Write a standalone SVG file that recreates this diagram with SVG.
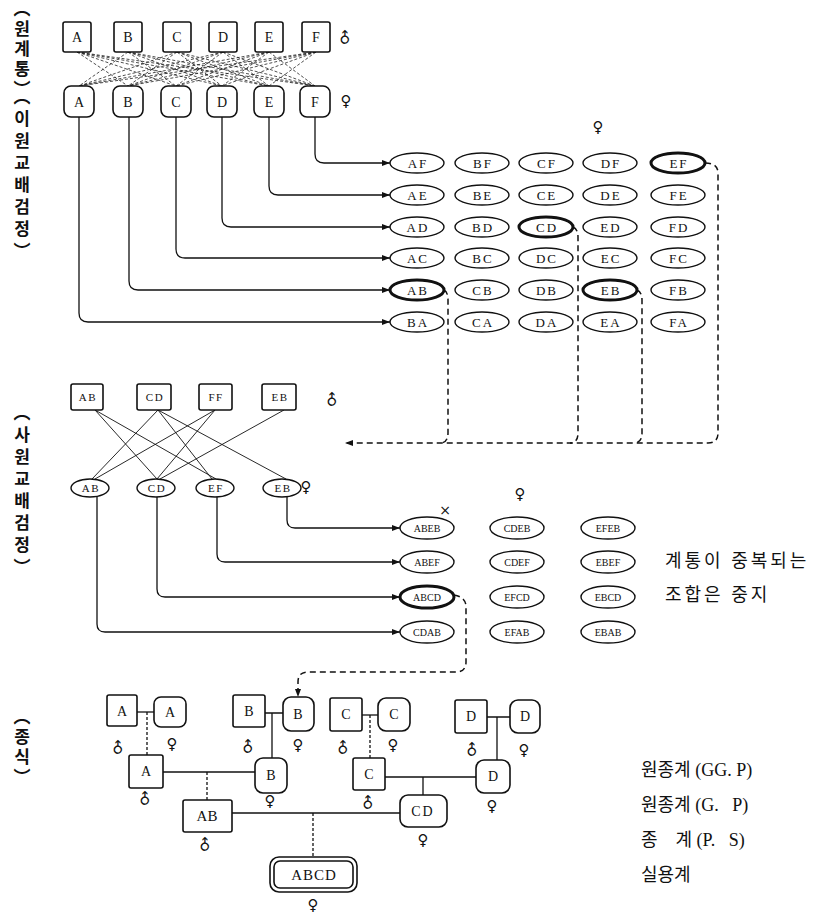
<svg xmlns="http://www.w3.org/2000/svg" width="835" height="919" viewBox="0 0 835 919">
<style>
.box{fill:#fff;stroke:#111;stroke-width:1.6}
.ell{fill:#fff;stroke:#111;stroke-width:1.4}
.bold{stroke-width:3}
.lbl{font-family:"Liberation Serif",serif;font-size:14px;text-anchor:middle;dominant-baseline:central;fill:#111}
.g1{font-size:13px;letter-spacing:2px}
.g2{font-size:10px;letter-spacing:0px}
.m{font-size:11px;letter-spacing:1.5px}
.conn{fill:none;stroke:#111;stroke-width:1.3}
.dash{stroke-dasharray:6 4;stroke-width:1.5}
.dot{stroke-dasharray:3 2}
.cross{stroke:#222;stroke-width:0.8;stroke-dasharray:3 2;fill:none}
.x2{stroke:#111;stroke-width:0.9;fill:none}
.sym{font-family:"DejaVu Sans",sans-serif;font-size:15px;text-anchor:middle;dominant-baseline:central;fill:#111}
.vl{font-family:"Noto Sans CJK KR",sans-serif;font-size:17px;font-weight:bold;writing-mode:vertical-rl;letter-spacing:5px;fill:#111}
.kr{font-family:"Liberation Serif","Noto Sans CJK KR",serif;font-size:18px;fill:#111;white-space:pre}
</style>
<defs>
<marker id="ar" markerUnits="userSpaceOnUse" markerWidth="8" markerHeight="6" refX="8" refY="3" orient="auto"><path d="M0,0 L8,3 L0,6 z" fill="#111"/></marker>
</defs>

<!-- side labels -->
<text class="vl" x="22" y="0" style="letter-spacing:3px">︵원계통︶</text>
<text class="vl" x="22" y="88">︵이원교배검정︶</text>
<text class="vl" x="22" y="404">︵사원교배검정︶</text>
<text class="vl" x="22" y="708" style="letter-spacing:3px">︵종식︶</text>

<!-- connectors -->
<g id="connectors">
 <g id="top-cross">
  <path class="cross" d="M77 52L128 86M77 52L176 86M77 52L222 86M77 52L269 86M77 52L315 86"/>
  <path class="cross" d="M128 52L79 86M128 52L176 86M128 52L222 86M128 52L269 86M128 52L315 86"/>
  <path class="cross" d="M177 52L79 86M177 52L128 86M177 52L222 86M177 52L269 86M177 52L315 86"/>
  <path class="cross" d="M223 52L79 86M223 52L128 86M223 52L176 86M223 52L269 86M223 52L315 86"/>
  <path class="cross" d="M269 52L79 86M269 52L128 86M269 52L176 86M269 52L222 86M269 52L315 86"/>
  <path class="cross" d="M316 52L79 86M316 52L128 86M316 52L176 86M316 52L222 86M316 52L269 86"/>
 </g>
 <path class="conn" marker-end="url(#ar)" d="M315 117V154Q315 163 324 163H390"/>
 <path class="conn" marker-end="url(#ar)" d="M269 117V186Q269 195 278 195H390"/>
 <path class="conn" marker-end="url(#ar)" d="M222 117V218Q222 227 231 227H390"/>
 <path class="conn" marker-end="url(#ar)" d="M176 117V249Q176 258 185 258H390"/>
 <path class="conn" marker-end="url(#ar)" d="M129 117V281Q129 290 138 290H390"/>
 <path class="conn" marker-end="url(#ar)" d="M79 117V313Q79 322 88 322H390"/>

 <path class="conn dash" marker-end="url(#ar)" d="M705 163Q718 163 718 173V433Q718 443 708 443H345"/>
 <path class="conn dash" d="M444 290Q448 292 448 300V433Q448 443 440 443"/>
 <path class="conn dash" d="M573 227Q578 229 578 237V433Q578 443 570 443"/>
 <path class="conn dash" d="M637 290Q642 292 642 300V433Q642 443 634 443"/>

 <g id="mid-cross">
  <path class="x2" d="M95 410L157 479M95 410L216 479"/>
  <path class="x2" d="M158 410L92 479M158 410L212 479M158 410L286 479"/>
  <path class="x2" d="M215 410L95 479M215 410L157 479"/>
  <path class="x2" d="M284 410L160 479"/>
 </g>
 <path class="conn" marker-end="url(#ar)" d="M287 497V520Q287 528 295 528H400"/>
 <path class="conn" marker-end="url(#ar)" d="M217 497V554Q217 562 225 562H400"/>
 <path class="conn" marker-end="url(#ar)" d="M157 497V589Q157 597 165 597H400"/>
 <path class="conn" marker-end="url(#ar)" d="M97 497V624Q97 632 105 632H400"/>

 <path class="conn dash" marker-end="url(#ar)" d="M454 595Q466 597 466 607V662Q466 672 456 672H308Q298 672 298 682V697"/>

 <g id="pedigree-lines">
  <path class="conn" d="M137 712H154"/>
  <path class="conn dot" d="M147 712V755"/>
  <path class="conn" d="M265 713H283M272 713V758"/>
  <path class="conn" d="M362 715H378"/>
  <path class="conn dot" d="M370 715V758"/>
  <path class="conn" d="M487 717H510M497 717V760"/>
  <path class="conn" d="M163 772H255"/>
  <path class="conn dot" d="M207 772V800"/>
  <path class="conn" d="M385 777H476M423 777V795"/>
  <path class="conn" d="M232 813H400"/>
  <path class="conn dot" d="M313 813V857"/>
 </g>
</g>

<!-- top males -->
<g id="m-A"><rect class="box" x="63" y="22" width="28" height="30" rx="2"/><text class="lbl" x="77" y="37">A</text></g>
<g id="m-B"><rect class="box" x="114" y="22" width="28" height="30" rx="2"/><text class="lbl" x="128" y="37">B</text></g>
<g id="m-C"><rect class="box" x="163" y="22" width="28" height="30" rx="2"/><text class="lbl" x="177" y="37">C</text></g>
<g id="m-D"><rect class="box" x="209" y="22" width="28" height="30" rx="2"/><text class="lbl" x="223" y="37">D</text></g>
<g id="m-E"><rect class="box" x="255" y="22" width="28" height="30" rx="2"/><text class="lbl" x="269" y="37">E</text></g>
<g id="m-F"><rect class="box" x="302" y="22" width="28" height="30" rx="2"/><text class="lbl" x="316" y="37">F</text></g>
<text class="sym" x="345" y="38" transform="rotate(-45 345 38)">♂</text>

<!-- top females -->
<g id="f-A"><rect class="box" x="64" y="86" width="30" height="31" rx="7"/><text class="lbl" x="79" y="102">A</text></g>
<g id="f-B"><rect class="box" x="113" y="86" width="30" height="31" rx="7"/><text class="lbl" x="128" y="102">B</text></g>
<g id="f-C"><rect class="box" x="161" y="86" width="30" height="31" rx="7"/><text class="lbl" x="176" y="102">C</text></g>
<g id="f-D"><rect class="box" x="207" y="86" width="30" height="31" rx="7"/><text class="lbl" x="222" y="102">D</text></g>
<g id="f-E"><rect class="box" x="254" y="86" width="30" height="31" rx="7"/><text class="lbl" x="269" y="102">E</text></g>
<g id="f-F"><rect class="box" x="300" y="86" width="30" height="31" rx="7"/><text class="lbl" x="315" y="102">F</text></g>
<text class="sym" x="346" y="101">♀</text>

<!-- grid 1 -->
<text class="sym" x="598" y="127">♀</text>
<g id="grid1">
 <g id="AF"><ellipse class="ell" cx="417" cy="163" rx="27" ry="10"/><text class="lbl g1" x="418" y="163">AF</text></g>
 <g id="BF"><ellipse class="ell" cx="482" cy="163" rx="27" ry="10"/><text class="lbl g1" x="483" y="163">BF</text></g>
 <g id="CF"><ellipse class="ell" cx="546" cy="163" rx="27" ry="10"/><text class="lbl g1" x="547" y="163">CF</text></g>
 <g id="DF"><ellipse class="ell" cx="610" cy="163" rx="27" ry="10"/><text class="lbl g1" x="611" y="163">DF</text></g>
 <g id="EF"><ellipse class="ell bold" cx="678" cy="163" rx="27" ry="10"/><text class="lbl g1" x="679" y="163">EF</text></g>

 <g id="AE"><ellipse class="ell" cx="417" cy="195" rx="27" ry="10"/><text class="lbl g1" x="418" y="195">AE</text></g>
 <g id="BE"><ellipse class="ell" cx="482" cy="195" rx="27" ry="10"/><text class="lbl g1" x="483" y="195">BE</text></g>
 <g id="CE"><ellipse class="ell" cx="546" cy="195" rx="27" ry="10"/><text class="lbl g1" x="547" y="195">CE</text></g>
 <g id="DE"><ellipse class="ell" cx="610" cy="195" rx="27" ry="10"/><text class="lbl g1" x="611" y="195">DE</text></g>
 <g id="FE"><ellipse class="ell" cx="678" cy="195" rx="27" ry="10"/><text class="lbl g1" x="679" y="195">FE</text></g>

 <g id="AD"><ellipse class="ell" cx="417" cy="227" rx="27" ry="10"/><text class="lbl g1" x="418" y="227">AD</text></g>
 <g id="BD"><ellipse class="ell" cx="482" cy="227" rx="27" ry="10"/><text class="lbl g1" x="483" y="227">BD</text></g>
 <g id="CD"><ellipse class="ell bold" cx="546" cy="227" rx="27" ry="10"/><text class="lbl g1" x="547" y="227">CD</text></g>
 <g id="ED"><ellipse class="ell" cx="610" cy="227" rx="27" ry="10"/><text class="lbl g1" x="611" y="227">ED</text></g>
 <g id="FD"><ellipse class="ell" cx="678" cy="227" rx="27" ry="10"/><text class="lbl g1" x="679" y="227">FD</text></g>

 <g id="AC"><ellipse class="ell" cx="417" cy="258" rx="27" ry="10"/><text class="lbl g1" x="418" y="258">AC</text></g>
 <g id="BC"><ellipse class="ell" cx="482" cy="258" rx="27" ry="10"/><text class="lbl g1" x="483" y="258">BC</text></g>
 <g id="DC"><ellipse class="ell" cx="546" cy="258" rx="27" ry="10"/><text class="lbl g1" x="547" y="258">DC</text></g>
 <g id="EC"><ellipse class="ell" cx="610" cy="258" rx="27" ry="10"/><text class="lbl g1" x="611" y="258">EC</text></g>
 <g id="FC"><ellipse class="ell" cx="678" cy="258" rx="27" ry="10"/><text class="lbl g1" x="679" y="258">FC</text></g>

 <g id="AB"><ellipse class="ell bold" cx="417" cy="290" rx="27" ry="10"/><text class="lbl g1" x="418" y="290">AB</text></g>
 <g id="CB"><ellipse class="ell" cx="482" cy="290" rx="27" ry="10"/><text class="lbl g1" x="483" y="290">CB</text></g>
 <g id="DB"><ellipse class="ell" cx="546" cy="290" rx="27" ry="10"/><text class="lbl g1" x="547" y="290">DB</text></g>
 <g id="EB"><ellipse class="ell bold" cx="610" cy="290" rx="27" ry="10"/><text class="lbl g1" x="611" y="290">EB</text></g>
 <g id="FB"><ellipse class="ell" cx="678" cy="290" rx="27" ry="10"/><text class="lbl g1" x="679" y="290">FB</text></g>

 <g id="BA"><ellipse class="ell" cx="417" cy="322" rx="27" ry="10"/><text class="lbl g1" x="418" y="322">BA</text></g>
 <g id="CA"><ellipse class="ell" cx="482" cy="322" rx="27" ry="10"/><text class="lbl g1" x="483" y="322">CA</text></g>
 <g id="DA"><ellipse class="ell" cx="546" cy="322" rx="27" ry="10"/><text class="lbl g1" x="547" y="322">DA</text></g>
 <g id="EA"><ellipse class="ell" cx="610" cy="322" rx="27" ry="10"/><text class="lbl g1" x="611" y="322">EA</text></g>
 <g id="FA"><ellipse class="ell" cx="678" cy="322" rx="27" ry="10"/><text class="lbl g1" x="679" y="322">FA</text></g>
</g>

<!-- middle males -->
<g id="mm-AB"><rect class="box" x="71" y="384" width="32" height="26" rx="2"/><text class="lbl m" x="88" y="397">AB</text></g>
<g id="mm-CD"><rect class="box" x="137" y="384" width="34" height="26" rx="2"/><text class="lbl m" x="155" y="397">CD</text></g>
<g id="mm-FF"><rect class="box" x="199" y="384" width="33" height="26" rx="2"/><text class="lbl m" x="216" y="397">FF</text></g>
<g id="mm-EB"><rect class="box" x="262" y="384" width="34" height="26" rx="2"/><text class="lbl m" x="280" y="397">EB</text></g>
<text class="sym" x="332" y="400" transform="rotate(-45 332 400)">♂</text>

<!-- middle females -->
<g id="mf-AB"><ellipse class="ell" cx="90" cy="488" rx="19" ry="9"/><text class="lbl m" x="91" y="488">AB</text></g>
<g id="mf-CD"><ellipse class="ell" cx="156" cy="488" rx="19" ry="9"/><text class="lbl m" x="157" y="488">CD</text></g>
<g id="mf-EF"><ellipse class="ell" cx="215" cy="488" rx="19" ry="9"/><text class="lbl m" x="216" y="488">EF</text></g>
<g id="mf-EB"><ellipse class="ell" cx="282" cy="488" rx="19" ry="9"/><text class="lbl m" x="283" y="488">EB</text></g>
<text class="sym" x="306" y="487">♀</text>

<!-- grid 2 -->
<text class="sym" x="445" y="510" style="font-size:14px">×</text>
<text class="sym" x="520" y="494">♀</text>
<g id="grid2">
 <g id="ABEB"><ellipse class="ell" cx="427" cy="528" rx="27" ry="11"/><text class="lbl g2" x="427" y="528">ABEB</text></g>
 <g id="CDEB"><ellipse class="ell" cx="517" cy="528" rx="27" ry="11"/><text class="lbl g2" x="517" y="528">CDEB</text></g>
 <g id="EFEB"><ellipse class="ell" cx="608" cy="528" rx="27" ry="11"/><text class="lbl g2" x="608" y="528">EFEB</text></g>
 <g id="ABEF"><ellipse class="ell" cx="427" cy="562" rx="27" ry="11"/><text class="lbl g2" x="427" y="562">ABEF</text></g>
 <g id="CDEF"><ellipse class="ell" cx="517" cy="562" rx="27" ry="11"/><text class="lbl g2" x="517" y="562">CDEF</text></g>
 <g id="EBEF"><ellipse class="ell" cx="608" cy="562" rx="27" ry="11"/><text class="lbl g2" x="608" y="562">EBEF</text></g>
 <g id="ABCD"><ellipse class="ell bold" cx="427" cy="597" rx="27" ry="11"/><text class="lbl g2" x="427" y="597">ABCD</text></g>
 <g id="EFCD"><ellipse class="ell" cx="517" cy="597" rx="27" ry="11"/><text class="lbl g2" x="517" y="597">EFCD</text></g>
 <g id="EBCD"><ellipse class="ell" cx="608" cy="597" rx="27" ry="11"/><text class="lbl g2" x="608" y="597">EBCD</text></g>
 <g id="CDAB"><ellipse class="ell" cx="427" cy="632" rx="27" ry="11"/><text class="lbl g2" x="427" y="632">CDAB</text></g>
 <g id="EFAB"><ellipse class="ell" cx="517" cy="632" rx="27" ry="11"/><text class="lbl g2" x="517" y="632">EFAB</text></g>
 <g id="EBAB"><ellipse class="ell" cx="608" cy="632" rx="27" ry="11"/><text class="lbl g2" x="608" y="632">EBAB</text></g>
</g>
<text class="kr" x="665" y="567" style="letter-spacing:3px">계통이 중복되는</text>
<text class="kr" x="665" y="601" style="letter-spacing:3px">조합은 중지</text>

<!-- pedigree -->
<g id="p-Am"><rect class="box" x="107" y="695" width="30" height="31" rx="2"/><text class="lbl" x="122" y="711">A</text></g>
<g id="p-Af"><rect class="box" x="154" y="697" width="32" height="30" rx="7"/><text class="lbl" x="170" y="712">A</text></g>
<text class="sym" x="118" y="748" transform="rotate(-45 118 748)">♂</text>
<text class="sym" x="172" y="744">♀</text>
<g id="p-Bm"><rect class="box" x="233" y="695" width="32" height="32" rx="2"/><text class="lbl" x="249" y="711">B</text></g>
<g id="p-Bf"><rect class="box" x="283" y="697" width="31" height="34" rx="8"/><text class="lbl" x="298" y="714">B</text></g>
<text class="sym" x="248" y="747" transform="rotate(-45 248 747)">♂</text>
<text class="sym" x="298" y="745">♀</text>
<g id="p-Cm"><rect class="box" x="330" y="698" width="32" height="33" rx="2"/><text class="lbl" x="346" y="714">C</text></g>
<g id="p-Cf"><rect class="box" x="378" y="698" width="32" height="33" rx="8"/><text class="lbl" x="394" y="714">C</text></g>
<text class="sym" x="343" y="748" transform="rotate(-45 343 748)">♂</text>
<text class="sym" x="393" y="745">♀</text>
<g id="p-Dm"><rect class="box" x="455" y="700" width="32" height="33" rx="2"/><text class="lbl" x="471" y="716">D</text></g>
<g id="p-Df"><rect class="box" x="510" y="700" width="30" height="33" rx="8"/><text class="lbl" x="525" y="716">D</text></g>
<text class="sym" x="472" y="750" transform="rotate(-45 472 750)">♂</text>
<text class="sym" x="524" y="750">♀</text>

<g id="p-A2"><rect class="box" x="129" y="755" width="34" height="33" rx="2"/><text class="lbl" x="146" y="771">A</text></g>
<text class="sym" x="145" y="799" transform="rotate(-45 145 799)">♂</text>
<g id="p-B2"><rect class="box" x="255" y="758" width="32" height="35" rx="8"/><text class="lbl" x="271" y="775">B</text></g>
<text class="sym" x="270" y="801">♀</text>
<g id="p-C2"><rect class="box" x="353" y="758" width="32" height="32" rx="2"/><text class="lbl" x="369" y="774">C</text></g>
<text class="sym" x="368" y="803" transform="rotate(-45 368 803)">♂</text>
<g id="p-D2"><rect class="box" x="476" y="760" width="34" height="33" rx="8"/><text class="lbl" x="493" y="776">D</text></g>
<text class="sym" x="492" y="806">♀</text>

<g id="p-AB"><rect class="box" x="183" y="800" width="49" height="32" rx="2"/><text class="lbl" x="207" y="816" style="font-size:15px">AB</text></g>
<text class="sym" x="205" y="845" transform="rotate(-45 205 845)">♂</text>
<g id="p-CD"><rect class="box" x="400" y="795" width="47" height="32" rx="8"/><text class="lbl" x="423" y="811" style="letter-spacing:2px">CD</text></g>
<text class="sym" x="423" y="840">♀</text>

<g id="p-ABCD"><rect class="box" x="270" y="857" width="87" height="35" rx="9"/><rect class="box" x="274" y="861" width="79" height="27" rx="6"/><text class="lbl" x="314" y="875" style="font-size:15px;letter-spacing:1px">ABCD</text></g>
<text class="sym" x="313" y="905">♀</text>

<text class="kr" x="641" y="776">원종계 (GG. P)</text>
<text class="kr" x="641" y="811">원종계 (G.   P)</text>
<text class="kr" x="641" y="846">종    계 (P.   S)</text>
<text class="kr" x="641" y="881">실용계</text>
</svg>
